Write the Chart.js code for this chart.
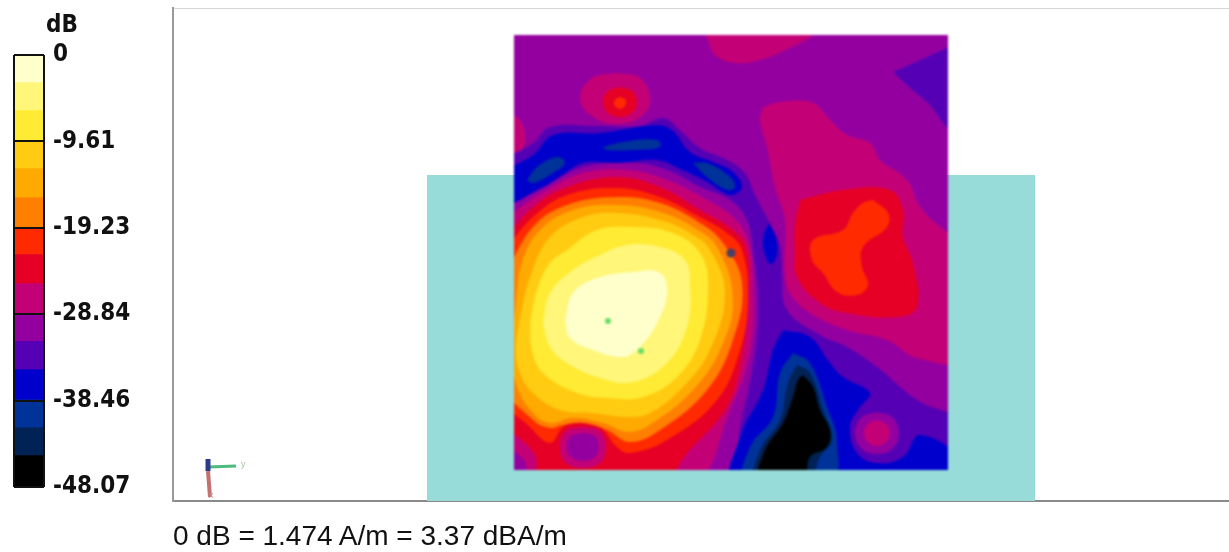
<!DOCTYPE html>
<html><head><meta charset="utf-8">
<style>
html,body{margin:0;padding:0;background:#fff;width:1229px;height:552px;overflow:hidden}
canvas{position:absolute;left:0;top:0}
#contour{filter:blur(1px)}
.t{position:absolute;white-space:nowrap}
#unit{left:46px;top:10px;font:bold 24px "DejaVu Sans Condensed","DejaVu Sans",sans-serif;color:#111}
#note{left:173px;top:520px;font:28px "Liberation Sans",Arial,sans-serif;color:#111}
#ty{left:241px;top:459px;font:9px "Liberation Sans",sans-serif;color:#a8c8a8}
#tx{left:209px;top:490px;font:9px "Liberation Sans",sans-serif;color:#c09090}
</style></head><body>
<canvas id="main" width="1229" height="552"></canvas>
<canvas id="contour" width="1229" height="552"></canvas>
<canvas id="bar" width="173" height="552"></canvas>
<div class="t" id="unit">dB</div>
<div class="t" id="note">0 dB = 1.474 A/m = 3.37 dBA/m</div>
<div class="t" id="ty">y</div>
<div class="t" id="tx">x</div>
<script src="https://cdn.jsdelivr.net/npm/chart.js@4"></script>
<script>
// ---- colour scale ----
const legendTicks = [0, -9.61, -19.23, -28.84, -38.46, -48.07];
const bandSteps = [-3.0,-3.12,-3.45,-3.0,-3.23,-3.45,-2.89,-3.23,-3.33,-3.1,-3.14,-3.36,-3.1,-3.1,-3.57];
const bandColors = ['#FFFFCC','#FFF67A','#FFEB33','#FFCC11','#FFAA00','#FF7F00','#FF2A00','#E60026','#C40076','#9400A0','#5500B5','#0000CC','#003399','#002255','#000000'];
const C = {cream:0,pale:1,yellow:2,gold:3,amber:4,orange:5,red:6,crimson:7,magenta:8,purple:9,indigo:10,blue:11,navy:12,dark:13,black:14};

// ---- context geometry (position units of the view) ----
const slabOutline = [[427,175],[1035,175],[1035,501],[427,501],[427,175]];
const frameTop = [[173,8],[1229,8]];
const triadBlue = [[208,459],[208,471]];
const triadRed = [[208,471],[210,497]];
const triadGreen = [[208,467],[236,466]];

// ---- contour outlines ----
const panelBase = [[514,35],[948,35],[948,470],[514,470],[514,35]];
const topMagenta = [[700,20],[708,40],[715,55],[735,63],[760,60],[785,50],[815,33],[815,20]];
const leftMagenta = [[505,115],[518,118],[525,135],[520,153],[505,155]];
const cornerIndigo = [[893,72],[920,60],[948,47],[960,40],[960,135],[945,125],[930,105],[910,88]];
const rightMagenta = [[763,107],[780,102],[813,103],[830,120],[847,135],[870,143],[880,160],[907,180],[920,207],[947,232],[965,240],[965,358],[917,358],[887,340],[847,330],[810,313],[790,293],[785,270],[785,220],[775,187],[767,147],[760,120]];
const rightCrimson = [[800,200],[843,190],[890,190],[903,210],[903,237],[913,263],[917,307],[897,317],[847,313],[820,303],[797,277],[795,250],[795,225]];
const rightRed = [[873,200],[888,213],[887,227],[863,247],[862,267],[868,285],[857,295],[837,292],[823,273],[812,260],[813,240],[843,230],[853,213],[863,203]];
const spotMagenta = [[617,73],[640,78],[650,98],[642,116],[617,124],[592,116],[580,98],[592,78]];
const spotCrimson = [[620,87],[632,91],[637,102],[632,113],[620,117],[608,113],[603,102],[608,91]];
const spotRed = [[620,97],[625,99],[626,103],[624,107],[620,109],[616,107],[614,103],[616,99]];
const indigoField = [[505,158],[533,143],[550,127],[600,126],[640,126],[663,118],[680,130],[700,148],[727,160],[745,173],[755,195],[768,220],[780,245],[782,275],[787,310],[820,335],[847,347],[877,367],[917,400],[965,425],[965,485],[700,485],[700,400],[700,250],[600,230],[505,230]];
const hotPurple = [[505,208],[550,183],[583,167],[633,163],[667,170],[700,187],[730,200],[747,220],[753,253],[758,300],[755,350],[742,417],[720,485],[505,485]];
const bandBlue = [[505,170],[533,155],[553,135],[600,133],[657,125],[673,131],[690,152],[713,162],[733,172],[742,187],[730,195],[707,182],[680,169],[657,160],[617,163],[583,163],[563,175],[540,189],[505,203]];
const bandNavyA = [[527,180],[537,167],[557,157],[565,163],[553,173],[533,183]];
const bandNavyB = [[603,147],[623,142],[657,140],[660,147],[633,150],[607,150]];
const bandNavyC = [[693,163],[707,163],[730,177],[735,187],[727,190],[707,177]];
const blueSpot = [[769,223],[776,238],[777,255],[771,264],[765,255],[763,238]];
const coldBlue = [[783,330],[810,337],[830,363],[843,377],[870,393],[860,407],[850,427],[857,453],[877,463],[903,457],[920,435],[965,462],[965,485],[735,485],[740,437],[763,390],[773,350]];
const ringPurple = [[877,412],[892,417],[899,433],[892,449],[877,454],[862,449],[855,433],[862,417]];
const ringMagenta = [[877,420],[886,424],[890,433],[886,442],[877,446],[868,442],[864,433],[868,424]];
const coldNavy = [[793,353],[810,363],[827,407],[837,440],[830,485],[745,485],[750,447],[773,417],[780,373]];
const coldDark = [[797,365],[810,373],[823,410],[832,440],[820,457],[807,485],[755,485],[760,450],[780,420],[788,383]];
const coldBlack = [[803,375],[813,387],[820,410],[830,430],[827,447],[810,457],[803,480],[760,480],[765,450],[783,423],[793,397],[798,380]];
const hotMagenta = [[505,218],[547,190],[583,173],[627,170],[667,180],[707,200],[733,217],[748,240],[753,283],[750,350],[730,410],[690,485],[530,485],[525,462],[505,438]];
const hotCrimson = [[505,238],[533,207],[567,187],[617,177],[660,187],[700,210],[733,230],[747,250],[747,307],[742,357],[727,407],[687,453],[660,485],[540,485],[535,455],[505,418]];
const hotRed = [[505,250],[533,217],[567,195],[617,188],[660,197],[700,217],[727,233],[742,250],[748,300],[740,350],[717,400],[667,440],[630,453],[617,447],[600,427],[580,422],[563,427],[550,443],[530,427],[505,398]];
const hotOrange = [[505,275],[533,227],[567,205],[617,197],[660,203],[700,223],[723,243],[742,283],[733,340],[707,390],[660,430],[630,442],[607,430],[583,423],[563,425],[550,428],[533,420],[505,385]];
const hotAmber = [[516,300],[522,262],[540,230],[573,210],[617,205],[660,212],[693,227],[717,247],[733,300],[720,350],[693,390],[657,420],[630,432],[603,423],[573,418],[550,423],[533,413],[517,387],[512,350]];
const hotGold = [[520,317],[530,277],[550,237],[583,217],[617,213],[660,220],[690,233],[710,250],[725,293],[710,350],[683,387],[650,413],[627,417],[593,413],[560,410],[533,393],[520,373],[516,350]];
const hotYellow = [[530,323],[537,290],[550,263],[567,250],[597,230],[633,227],[673,233],[700,253],[708,283],[700,340],[677,377],[643,397],[610,398],[577,393],[543,373],[532,350]];
const hotPale = [[543,323],[550,293],[573,270],[600,255],[627,245],[660,247],[685,260],[690,283],[687,327],[667,363],[633,382],[600,378],[567,363],[550,347]];
const hotCream = [[565,320],[573,293],[597,278],[633,272],[660,273],[667,293],[657,323],[640,347],[623,357],[593,350],[570,338]];
const dentMagenta = [[583,427],[600,431],[606,447],[600,463],[583,468],[566,463],[560,447],[566,431]];
const dentPurple = [[583,433],[595,436],[599,447],[595,457],[583,461],[571,457],[567,447],[571,436]];
const probeGreen = [[608,321],[641,351]];
const probeDark = [[731,253]];

const toPts = a => a.map(p => ({x:p[0], y:p[1]}));
const shape = (pts, colorIdx, tension) => ({
  data: toPts(pts.concat([pts[0]])), showLine:true, fill:'shape', pointRadius:0,
  borderWidth:0, borderColor:'transparent', backgroundColor:bandColors[colorIdx],
  tension: tension === undefined ? 0.4 : tension
});
const noLegend = {legend:{display:false},tooltip:{enabled:false},title:{display:false}};

// background: slab and frame (Chart.js paints the first dataset last)
new Chart(document.getElementById('main'),{
  type:'scatter',
  data:{datasets:[
    {data:toPts(triadBlue),showLine:true,pointRadius:0,borderWidth:5,borderColor:'#2c3a8c'},
    {data:toPts(triadRed),showLine:true,pointRadius:0,borderWidth:4,borderColor:'#c47070'},
    {data:toPts(triadGreen),showLine:true,pointRadius:0,borderWidth:3,borderColor:'#4dbb80'},
    {data:toPts(frameTop),showLine:true,pointRadius:0,borderWidth:1,borderColor:'#b0a8b0'},
    {data:toPts(slabOutline),showLine:true,fill:'shape',pointRadius:0,borderWidth:0,backgroundColor:'#97DCD9',tension:0}
  ]},
  options:{responsive:false,animation:false,devicePixelRatio:1,
    layout:{padding:{left:173,top:8,right:0,bottom:51}},
    plugins:noLegend,
    scales:{
      x:{type:'linear',min:173,max:1229,afterFit:s=>{s.height=0;},ticks:{display:false},grid:{display:false},border:{display:true,color:'#8a8a8a',width:2}},
      y:{type:'linear',reverse:true,min:8,max:501,afterFit:s=>{s.width=0;},ticks:{display:false},grid:{display:false},border:{display:true,color:'#9a9a9a',width:2}}
    }}
});

// contour panel: listed bottom-most first, reversed for Chart.js paint order
const layers = [
  shape(panelBase,C.purple,0),
  shape(topMagenta,C.magenta), shape(leftMagenta,C.magenta), shape(cornerIndigo,C.indigo),
  shape(rightMagenta,C.magenta), shape(rightCrimson,C.crimson), shape(rightRed,C.red),
  shape(spotMagenta,C.magenta), shape(spotCrimson,C.crimson), shape(spotRed,C.red),
  shape(indigoField,C.indigo), shape(hotPurple,C.purple),
  shape(bandBlue,C.blue), shape(bandNavyA,C.navy), shape(bandNavyB,C.navy), shape(bandNavyC,C.navy),
  shape(blueSpot,C.blue), shape(coldBlue,C.blue), shape(ringPurple,C.purple), shape(ringMagenta,C.magenta),
  shape(coldNavy,C.navy), shape(coldDark,C.dark), shape(coldBlack,C.black),
  shape(hotMagenta,C.magenta), shape(hotCrimson,C.crimson), shape(hotRed,C.red),
  shape(hotOrange,C.orange), shape(hotAmber,C.amber), shape(hotGold,C.gold),
  shape(hotYellow,C.yellow), shape(hotPale,C.pale), shape(hotCream,C.cream),
  shape(dentMagenta,C.magenta), shape(dentPurple,C.purple),
  {data:toPts(probeGreen),pointRadius:3,pointBackgroundColor:'#66DD66',pointBorderWidth:0},
  {data:toPts(probeDark),pointRadius:4.5,pointBackgroundColor:'#4A4064',pointBorderWidth:0}
].reverse();
new Chart(document.getElementById('contour'),{
  type:'scatter',
  data:{datasets:layers},
  options:{responsive:false,animation:false,devicePixelRatio:1,
    layout:{padding:{left:514,top:35,right:281,bottom:82}},
    plugins:Object.assign({filler:{drawTime:'beforeDatasetDraw'}},noLegend),
    elements:{line:{capBezierPoints:false}},
    scales:{
      x:{type:'linear',display:false,min:514,max:948},
      y:{type:'linear',display:false,reverse:true,min:35,max:470}
    }}
});

// colour bar
new Chart(document.getElementById('bar'),{
  type:'bar',
  data:{labels:[''],datasets:bandSteps.map((v,i)=>({data:[v],backgroundColor:bandColors[i],borderWidth:0,barPercentage:1,categoryPercentage:1}))},
  options:{responsive:false,animation:false,devicePixelRatio:1,
    layout:{padding:{left:14,top:55,right:0,bottom:65}},
    plugins:noLegend,
    scales:{
      x:{stacked:true,ticks:{display:false},border:{display:false},grid:{offset:true,color:'#111',lineWidth:2,z:2,drawTicks:false}},
      y:{stacked:true,position:'right',min:-48.07,max:0,
        afterBuildTicks:s=>{s.ticks=legendTicks.map(v=>({value:v}));},
        afterFit:s=>{s.width=129;},
        border:{display:false},
        grid:{color:'#111',lineWidth:2,z:2,drawTicks:false},
        ticks:{autoSkip:false,padding:9,color:'#111',font:{family:'"DejaVu Sans Condensed","DejaVu Sans"',weight:'bold',size:24},callback:v=>String(v)}
      }
    }}
});
</script>
</body></html>
